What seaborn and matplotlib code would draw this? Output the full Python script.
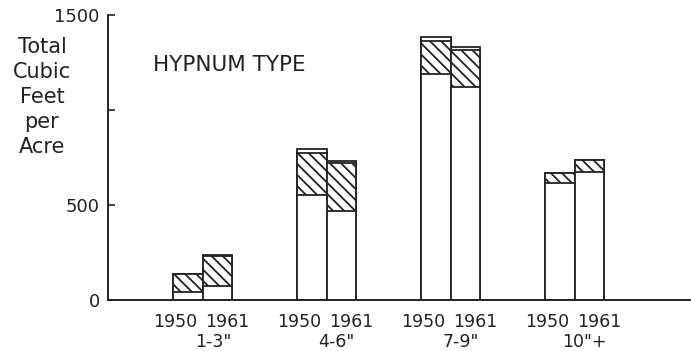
import matplotlib
matplotlib.use("Agg")
import matplotlib.pyplot as plt
import seaborn as sns
import pandas as pd

categories = ['1-3"', '4-6"', '7-9"', '10"+']
years = ['1950', '1961']
# cumulative heights (cubic feet per acre)
lower_1950 = [42, 552, 1189, 615]
lower_1961 = [74, 468, 1120, 673]
hatch_top_1950 = [137, 773, 1362, 668]
hatch_top_1961 = [232, 720, 1315, 736]
total_1950 = [137, 794, 1383, 668]
total_1961 = [237, 731, 1331, 736]
yticks = [0, 500, 1000, 1500]
ytick_labels = ['0', '500', '', '1500']

sns.set_theme(style="white")
plt.rcParams['font.family'] = ['DejaVu Sans']
plt.rcParams['hatch.linewidth'] = 1.3
plt.rcParams['hatch.color'] = '#222222'

def frame(v50, v61):
    return pd.DataFrame({
        'size': categories * 2,
        'year': ['1950'] * 4 + ['1961'] * 4,
        'value': list(v50) + list(v61),
    })

fig = plt.figure(figsize=(6.91, 3.51), dpi=100)
ax = fig.add_axes([108 / 691, 51 / 351, 582 / 691, 285 / 351])

common = dict(x='size', y='value', hue='year', order=categories, hue_order=years,
              palette=['white', 'white'], width=0.476, gap=0, errorbar=None,
              legend=False, edgecolor='#222222', linewidth=1.3, saturation=1, ax=ax)

sns.barplot(data=frame(total_1950, total_1961), **common)
sns.barplot(data=frame(hatch_top_1950, hatch_top_1961), hatch='\\\\\\', **common)
sns.barplot(data=frame(lower_1950, lower_1961), **common)

ax.set_xlim(-0.766, 3.93)
ax.set_ylim(0, 1500)
ax.set_xticks([])
ax.set_xlabel('')
ax.set_ylabel('')
ax.set_yticks(yticks)
ax.set_yticklabels(ytick_labels, fontsize=13)
ax.tick_params(axis='y', direction='in', length=5, width=1.2, pad=6, colors='#222222', left=True)
for s in ['top', 'right']:
    ax.spines[s].set_visible(False)
for s in ['left', 'bottom']:
    ax.spines[s].set_color('#222222')
    ax.spines[s].set_linewidth(1.4)

trans = ax.get_xaxis_transform()
for i, cat in enumerate(categories):
    ax.text(i - 0.22, -0.077, years[0], transform=trans, ha='center', va='center',
            fontsize=12.5, color='#222222')
    ax.text(i + 0.20, -0.077, years[1], transform=trans, ha='center', va='center',
            fontsize=12.5, color='#222222')
    ax.text(i + 0.08, -0.147, cat, transform=trans, ha='center', va='center',
            fontsize=12.5, color='#222222')

fig.text(42 / 691, 1 - 97 / 351, 'Total\nCubic\nFeet\nper\nAcre', ha='center', va='center',
         fontsize=15, linespacing=1.3, color='#222222')
fig.text(229 / 691, 1 - 65 / 351, 'HYPNUM TYPE', ha='center', va='center',
         fontsize=15.5, color='#222222')

fig.savefig('out.png', dpi=100)
